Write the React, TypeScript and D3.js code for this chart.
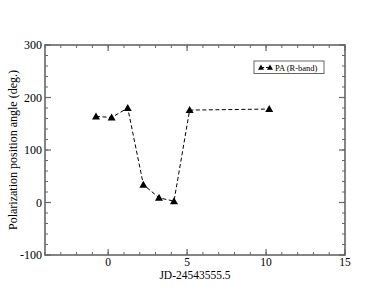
import React from 'react';
import * as d3 from 'd3';

const jd = [-0.77, 0.22, 1.24, 2.23, 3.22, 4.17, 5.16, 10.2];
const pa = [164, 162, 180, 34, 9, 2.5, 176, 178];
const xTicks = [0, 5, 10, 15];
const yTicks = [-100, 0, 100, 200, 300];
const seriesName = 'PA (R-band)';

const W = 388;
const H = 300;
const m = { left: 45, right: 43, top: 45, bottom: 45 };

function tri(x: number, y: number, s = 4) {
  return `M${x},${y - s}L${x + s},${y + s * 0.75}L${x - s},${y + s * 0.75}Z`;
}

export default function App() {
  const x = d3.scaleLinear().domain([-4, 15]).range([m.left, W - m.right]);
  const y = d3.scaleLinear().domain([-100, 300]).range([H - m.bottom, m.top]);
  const pts = jd.map((d, i) => [x(d), y(pa[i])] as [number, number]);
  const line = d3.line();

  const xMinor = d3.range(-4, 16, 1);
  const yMinor = d3.range(-100, 301, 20);
  const x0 = m.left, x1 = W - m.right, y0 = m.top, y1 = H - m.bottom;
  const axisCol = '#666';
  const font = '"Liberation Serif", "Times New Roman", serif';

  return (
    <svg width={W} height={H} style={{ position: 'absolute', left: 0, top: 0, background: '#fff' }} fontFamily={font}>
      {/* minor ticks */}
      {xMinor.map((t) => (
        <g key={'xm' + t} stroke={axisCol} strokeWidth={1}>
          <line x1={x(t)} x2={x(t)} y1={y1} y2={y1 - 3} />
          <line x1={x(t)} x2={x(t)} y1={y0} y2={y0 + 3} />
        </g>
      ))}
      {yMinor.map((t) => (
        <g key={'ym' + t} stroke={axisCol} strokeWidth={1}>
          <line x1={x0} x2={x0 + 3} y1={y(t)} y2={y(t)} />
          <line x1={x1} x2={x1 - 3} y1={y(t)} y2={y(t)} />
        </g>
      ))}
      {/* major ticks */}
      {xTicks.map((t) => (
        <g key={'x' + t}>
          <line x1={x(t)} x2={x(t)} y1={y1} y2={y1 - 6} stroke={axisCol} strokeWidth={1.2} />
          <line x1={x(t)} x2={x(t)} y1={y0} y2={y0 + 6} stroke={axisCol} strokeWidth={1.2} />
          <text x={x(t)} y={y1 + 10.5} textAnchor="middle" fontSize={11.5}>{t}</text>
        </g>
      ))}
      {yTicks.map((t) => (
        <g key={'y' + t}>
          <line x1={x0} x2={x0 + 6} y1={y(t)} y2={y(t)} stroke={axisCol} strokeWidth={1.2} />
          <line x1={x1} x2={x1 - 6} y1={y(t)} y2={y(t)} stroke={axisCol} strokeWidth={1.2} />
          <text x={x0 - 3} y={y(t) + 4} textAnchor="end" fontSize={12}>{t}</text>
        </g>
      ))}
      <rect x={x0} y={y0} width={x1 - x0} height={y1 - y0} fill="none" stroke={axisCol} strokeWidth={1.6} />
      {/* data */}
      <path d={line(pts) || ''} fill="none" stroke="#000" strokeWidth={1} strokeDasharray="4,2.5" />
      {pts.map((p, i) => (
        <path key={i} d={tri(p[0], p[1])} fill="#000" />
      ))}
      {/* legend */}
      <rect x={254} y={61} width={70} height={12.5} fill="#fff" stroke={axisCol} strokeWidth={1} />
      <line x1={261} x2={270} y1={67.5} y2={67.5} stroke="#000" strokeDasharray="3,2" />
      <path d={tri(261, 67.5, 3)} fill="#000" />
      <path d={tri(270, 67.5, 3)} fill="#000" />
      <text x={275} y={70.5} fontSize={8.5}>{seriesName}</text>
      {/* axis labels */}
      <text x={(x0 + x1) / 2} y={y1 + 23.5} textAnchor="middle" fontSize={11.5}>JD-24543555.5</text>
      <text transform={`translate(17,${(y0 + y1) / 2}) rotate(-90)`} textAnchor="middle" fontSize={12}>
        Polarization position angle (deg.)
      </text>
    </svg>
  );
}
